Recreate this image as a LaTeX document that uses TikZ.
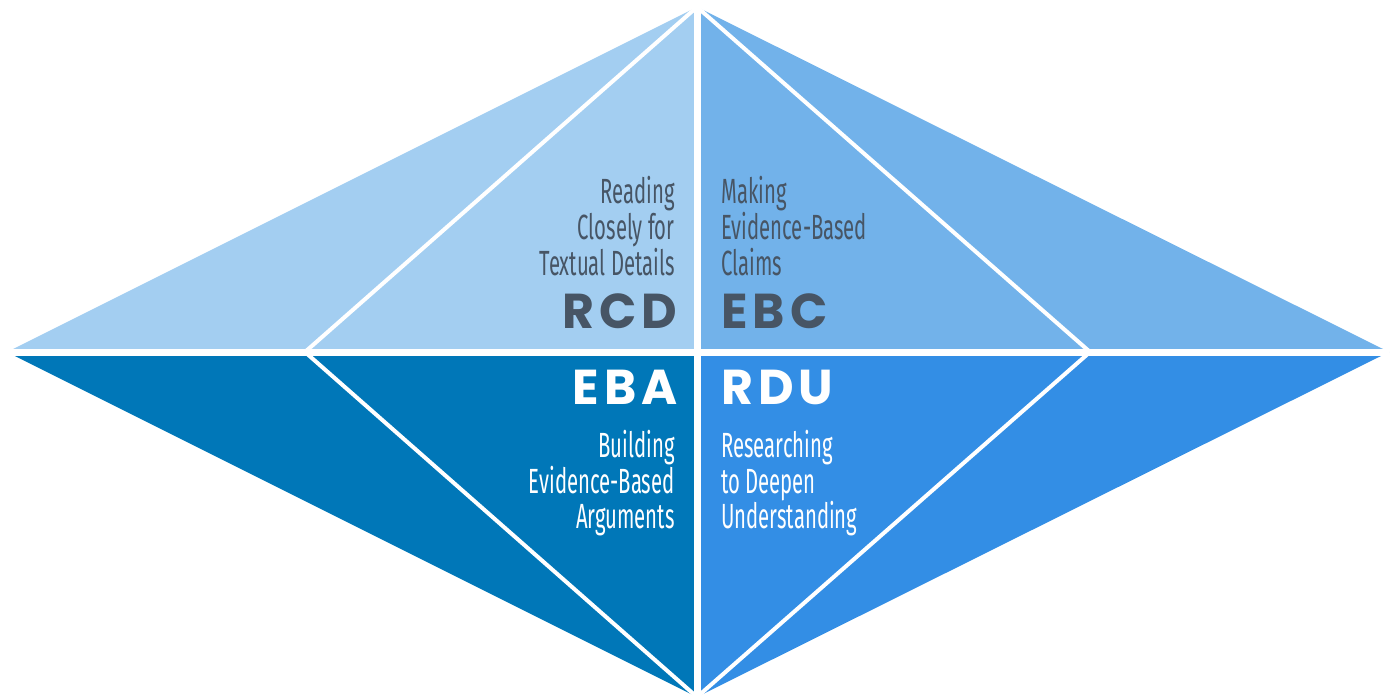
\documentclass[tikz,border=0pt]{standalone}
\usepackage{fontspec}
\usepackage{tikz}
\usetikzlibrary{positioning}
\newfontfamily\descfont[FakeStretch=0.58]{Fira Sans}
\newfontfamily\acrofont[LetterSpace=10]{Poppins}
\definecolor{quadTL}{HTML}{A3CEF1}
\definecolor{quadTR}{HTML}{72B2EA}
\definecolor{quadBL}{HTML}{0077B8}
\definecolor{quadBR}{HTML}{338EE5}
\definecolor{slate}{HTML}{475565}
\tikzset{
    desc/.style={inner sep=0pt, font=\descfont\fontsize{17.5}{17.8}\selectfont}, % the long names
    acro/.style={inner sep=0pt, font=\acrofont\bfseries\fontsize{24.5}{24.5}\selectfont}, % the short names
    gap/.style={white, line width=3.5pt},
    split/.style={white, line width=2pt},
}

\begin{document}
\begin{tikzpicture}[x=0.5pt, y=-0.5pt]
        \useasboundingbox (0,0) rectangle (1395,700);
        % Corners
        \coordinate (L) at (7,352);
        \coordinate (T) at (697,7);
        \coordinate (R) at (1389,352);
        \coordinate (B) at (697,697);
        \coordinate (C) at (697,352);
        \coordinate (iL) at (305,352);
        \coordinate (iR) at (1090,352);

        % Quadrants
        \fill[quadTL] (L) -- (T) -- (C) -- cycle;
        \fill[quadTR] (T) -- (R) -- (C) -- cycle;
        \fill[quadBL] (L) -- (B) -- (C) -- cycle;
        \fill[quadBR] (R) -- (B) -- (C) -- cycle;

        % Draw lines
        \draw[gap] (L) -- (R);
        \draw[gap] (T) -- (B);
        \draw[split] (iL) -- (T) -- (iR) -- (B) -- cycle;

        % Nodes
        \node[acro, slate, anchor=base east] (RCD) at (678,328) {RCD};
        \node[desc, slate, align=right, anchor=south east] (RCDtext) at (675,276) {Reading\\Closely for\\Textual Details};
        \node[acro, slate, anchor=base west] (EBC) at (721,328) {EBC};
        \node[desc, slate, align=left, anchor=south west] (EBCtext) at (721,276) {Making\\Evidence-Based\\Claims};
        \node[acro, white, anchor=base east] (EBA) at (678,404) {EBA};
        \node[desc, white, align=right, anchor=north east] (EBAtext) at (675,430) {Building\\Evidence-Based\\Arguments};
        \node[acro, white, anchor=base west] (RDU) at (721,404) {RDU};
        \node[desc, white, align=left, anchor=north west] (RDUtext) at (721,430) {Researching\\to Deepen\\Understanding};
    \end{tikzpicture}
\end{document}
